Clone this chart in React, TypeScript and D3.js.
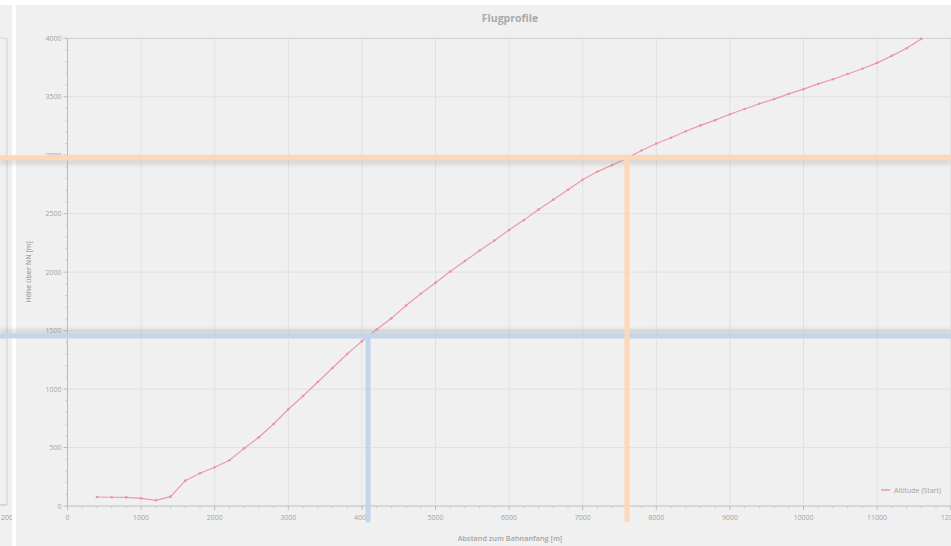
import React from "react";
import * as d3 from "d3";

const distances = [400,600,800,1000,1200,1400,1600,1800,2000,2200,2400,2600,2800,3000,3200,3400,3600,3800,4000,4200,4400,4600,4800,5000,5200,5400,5600,5800,6000,6200,6400,6600,6800,7000,7200,7400,7600,7800,8000,8200,8400,8600,8800,9000,9200,9400,9600,9800,10000,10200,10400,10600,10800,11000,11200,11400,11600];
const altitudes = [77,75,74,66,49,80,217,280,331,391,493,588,701,827,941,1061,1180,1300,1410,1510,1605,1715,1815,1910,2005,2095,2185,2270,2360,2445,2535,2620,2705,2790,2860,2915,2975,3040,3100,3150,3205,3255,3300,3350,3395,3440,3480,3525,3565,3610,3650,3695,3740,3790,3850,3915,3995];

const xTicks = [0,1000,2000,3000,4000,5000,6000,7000,8000,9000,10000,11000,12000];
const yTicks = [0,500,1000,1500,2000,2500,3000,3500,4000];

const crossDistances = [4083, 7602];
const crossAltitudes = [1454, 2979];
const crossColors = ["#c3d5ea", "#fdd7b8"];
const crossShadowDy = [-4, 4];

const title = "Flugprofile";
const xTitle = "Abstand zum Bahnanfang [m]";
const yTitle = "Höhe über NN [m]";
const seriesName = "Altitude (Start)";

const W = 951, H = 546;
const FONT = "'Open Sans', 'Noto Sans', sans-serif";

export default function App() {
  const x = d3.scaleLinear().domain([0, 12000]).range([67.5, 950.7]);
  const y = d3.scaleLinear().domain([0, 4000]).range([506, 38.3]);
  const line = d3.line<number>().x((_, i) => x(distances[i])).y((d) => y(d));
  const xMinor = d3.range(0, 12001, 200).filter((v) => v % 1000 !== 0);
  const yMinor = d3.range(0, 4001, 100).filter((v) => v % 500 !== 0);
  const plotL = x(0), plotR = W, plotT = y(4000), plotB = y(0);
  const lineColor = "#ee98a8";

  return (
    <svg width={W} height={H} style={{ position: "absolute", left: 0, top: 0, fontFamily: FONT }}>
      <defs>
        <filter id="blur" x="-10%" y="-200%" width="120%" height="500%">
          <feGaussianBlur stdDeviation="2" />
        </filter>
        <clipPath id="leftclip"><rect x={0} y={0} width={12} height={H} /></clipPath>
      </defs>
      <rect x={0} y={0} width={W} height={H} fill="#ffffff" />
      {/* left neighbouring panel */}
      <g clipPath="url(#leftclip)">
        <rect x={0} y={5} width={12} height={H} fill="#f0f0f0" />
        <line x1={0} x2={7} y1={plotT} y2={plotT} stroke="#d6d6d6" />
        <line x1={7} x2={7} y1={plotT} y2={505} stroke="#cfcfcf" />
        <line x1={0} x2={7} y1={505} y2={505} stroke="#bdbdbd" />
        <text x={7} y={520} fontSize={7} fill="#a0a0a0" textAnchor="middle">12000</text>
      </g>
      {/* main panel */}
      <rect x={16} y={5} width={W - 16} height={H - 5} fill="#f0f0f0" />
      <text x={510} y={22} fontSize={10.5} fontWeight={700} fill="#a9a9a9" textAnchor="middle">{title}</text>
      {/* grid */}
      {xTicks.filter((v) => v > 0).map((v) => (
        <line key={"gx" + v} x1={x(v)} x2={x(v)} y1={plotT} y2={plotB} stroke="#e0e0e0" />
      ))}
      {yTicks.filter((v) => v > 0 && v < 4000).map((v) => (
        <line key={"gy" + v} x1={plotL} x2={plotR} y1={y(v)} y2={y(v)} stroke="#e0e0e0" />
      ))}
      <line x1={plotL} x2={plotR} y1={plotT} y2={plotT} stroke="#d4d4d4" strokeWidth={1.2} />
      {/* axes */}
      <line x1={plotL} x2={plotL} y1={plotT} y2={plotB} stroke="#bcbcbc" />
      <line x1={plotL} x2={plotR} y1={plotB} y2={plotB} stroke="#bcbcbc" />
      {yTicks.map((v) => (
        <g key={"yt" + v}>
          <line x1={plotL - 4} x2={plotL} y1={y(v)} y2={y(v)} stroke="#bcbcbc" />
          <text x={plotL - 6} y={y(v) + 2.5} fontSize={7} fill="#a3a3a3" textAnchor="end">{v}</text>
        </g>
      ))}
      {yMinor.map((v) => (
        <line key={"ym" + v} x1={plotL - 2} x2={plotL} y1={y(v)} y2={y(v)} stroke="#c4c4c4" />
      ))}
      {xTicks.map((v) => (
        <g key={"xt" + v}>
          <line x1={x(v)} x2={x(v)} y1={plotB} y2={plotB + 4} stroke="#bcbcbc" />
          <text x={x(v)} y={plotB + 14} fontSize={7} fill="#a3a3a3" textAnchor="middle">{v}</text>
        </g>
      ))}
      {xMinor.map((v) => (
        <line key={"xm" + v} x1={x(v)} x2={x(v)} y1={plotB} y2={plotB + 2} stroke="#c4c4c4" />
      ))}
      <text x={510} y={541} fontSize={7.3} fontWeight={600} fill="#a3a3a3" textAnchor="middle">{xTitle}</text>
      <text transform={`translate(31,${272}) rotate(-90)`} fontSize={7} fontWeight={600} fill="#a3a3a3" textAnchor="middle">{yTitle}</text>
      {/* series */}
      <path d={line(altitudes) || ""} fill="none" stroke={lineColor} strokeWidth={1.2} />
      {altitudes.map((a, i) => (
        <circle key={"p" + i} cx={x(distances[i])} cy={y(a)} r={1.3} fill="#e88a9c" opacity={0.8} />
      ))}
      {/* legend */}
      <line x1={881} x2={890} y1={490} y2={490} stroke={lineColor} strokeWidth={1.5} />
      <text x={894} y={492.5} fontSize={7} fill="#a3a3a3">{seriesName}</text>
      {/* crosshairs */}
      {crossDistances.map((d, i) => (
        <g key={"c" + i}>
          <rect x={0} y={y(crossAltitudes[i]) - 2.5 + crossShadowDy[i]} width={W} height={5} fill="#9a9a9a" opacity={0.35} filter="url(#blur)" />
        </g>
      ))}
      {crossDistances.map((d, i) => (
        <g key={"cc" + i}>
          <line x1={0} x2={W} y1={y(crossAltitudes[i])} y2={y(crossAltitudes[i])} stroke={crossColors[i]} strokeWidth={5} />
          <line x1={x(d)} x2={x(d)} y1={y(crossAltitudes[i])} y2={520} stroke={crossColors[i]} strokeWidth={5} strokeLinecap="round" />
        </g>
      ))}
    </svg>
  );
}
